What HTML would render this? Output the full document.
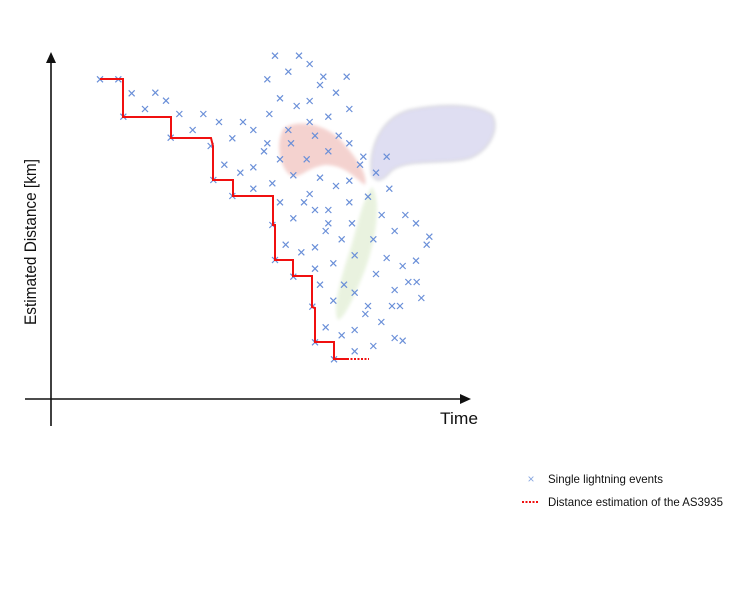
<!DOCTYPE html>
<html><head><meta charset="utf-8"><style>
html,body{margin:0;padding:0;background:#fff;}
svg{display:block;font-family:"Liberation Sans",Arial,sans-serif;}
</style></head><body>
<svg width="750" height="593" viewBox="0 0 750 593" xmlns="http://www.w3.org/2000/svg">
<defs>
<filter id="b" x="-20%" y="-20%" width="140%" height="140%"><feGaussianBlur stdDeviation="1.5"/></filter>
</defs>
<g filter="url(#b)" opacity="0.8">
<path d="M284,128 C300,118 330,125 345,145 C358,160 368,175 365,185 C355,178 345,165 325,165 C305,168 300,180 290,175 C278,165 276,140 284,128Z" fill="#f2c8c4"/>
<path d="M372,175 C368,150 380,118 410,110 C440,104 475,103 492,115 C500,128 490,150 470,158 C445,165 410,158 392,170 C385,178 378,185 372,175Z" fill="#d8d6f0" stroke="#d0d0d8" stroke-width="2"/>
<path d="M372,187 C382,200 376,240 365,270 C355,295 345,318 338,320 C332,310 340,280 350,250 C358,225 362,200 372,187Z" fill="#e4f0d8"/>
</g>
<line x1="51" y1="60" x2="51" y2="426" stroke="#111" stroke-width="1.6"/>
<polygon points="51,52 46,63 56,63" fill="#111"/>
<line x1="25" y1="399" x2="462" y2="399" stroke="#111" stroke-width="1.6"/>
<polygon points="471,399 460,394 460,404" fill="#111"/>
<text x="440" y="424" font-size="17" fill="#111" textLength="38" lengthAdjust="spacingAndGlyphs">Time</text>
<text transform="translate(36,325) rotate(-90)" font-size="17" fill="#111" textLength="166" lengthAdjust="spacingAndGlyphs">Estimated Distance [km]</text>
<g id="m" stroke="#6a8fd8" stroke-width="1.2"></g>
<polyline fill="none" stroke="#f01010" stroke-width="2" points="100,79 123,79 123,117 171,117 171,138 211,138 213,146 213,180 233,180 233,196 273,196 273,225 275,225 275,260 293,260 293,276 312,276 312,307 315,308 315,342 334,342 334,359 347,359"/>
<line x1="347" y1="359" x2="369" y2="359" stroke="#f01010" stroke-width="2" stroke-dasharray="2,1.5"/>
<text x="531" y="483" font-size="12" fill="#8aa8e0" text-anchor="middle">×</text>
<text x="548" y="483" font-size="12" fill="#111" textLength="115" lengthAdjust="spacingAndGlyphs">Single lightning events</text>
<line x1="522" y1="502" x2="539" y2="502" stroke="#f01010" stroke-width="2" stroke-dasharray="2,1.5"/>
<text x="548" y="506" font-size="12" fill="#111" textLength="175" lengthAdjust="spacingAndGlyphs">Distance estimation of the AS3935</text>
</svg>
<script>
var z=[[585,47],[657,47],[689,72],[625,95],[562,118],[730,110],[800,110],[720,135],[60,118],[115,118],[155,160],[226,158],[258,182],[768,158],[600,175],[650,198],[689,183],[195,207],[808,207],[130,230],[298,222],[370,222],[568,222],[745,230],[417,246],[489,246],[689,246],[338,270],[520,270],[625,270],[272,293],[457,295],[705,287],[776,287],[562,310],[633,310],[808,310],[392,318],[552,334],[745,334],[850,350],[920,350],[600,358],[680,358],[840,374],[433,374],[520,382],[481,398],[888,398],[640,406],[720,413],[400,420],[808,422],[768,438],[520,446],[577,430],[928,446],[864,470],[689,462],[457,468],[600,487],[672,487],[808,487],[705,510],[745,510],[905,525],[976,525],[640,535],[745,550],[816,550],[1008,550],[577,555],[737,573],[944,573],[1048,590],[785,598],[880,598],[1040,614],[617,614],[705,622],[664,637],[824,646],[920,654],[1008,662],[585,660],[760,670],[968,678],[705,686],[888,702],[640,710],[985,726],[1010,726],[720,734],[792,734],[944,750],[824,758],[1024,774],[760,782],[864,798],[936,798],[960,798],[697,800],[856,822],[904,846],[737,862],[824,870],[785,886],[944,894],[968,902],[880,918],[705,907],[824,934],[762,958]];
var g=document.getElementById('m'),s='';
z.forEach(function(p){var x=80+p[0]/3,y=40+p[1]/3,d=3;s+='<line x1="'+(x-d)+'" y1="'+(y-d)+'" x2="'+(x+d)+'" y2="'+(y+d)+'"/><line x1="'+(x-d)+'" y1="'+(y+d)+'" x2="'+(x+d)+'" y2="'+(y-d)+'"/>';});
g.innerHTML=s;
</script>
</body></html>
